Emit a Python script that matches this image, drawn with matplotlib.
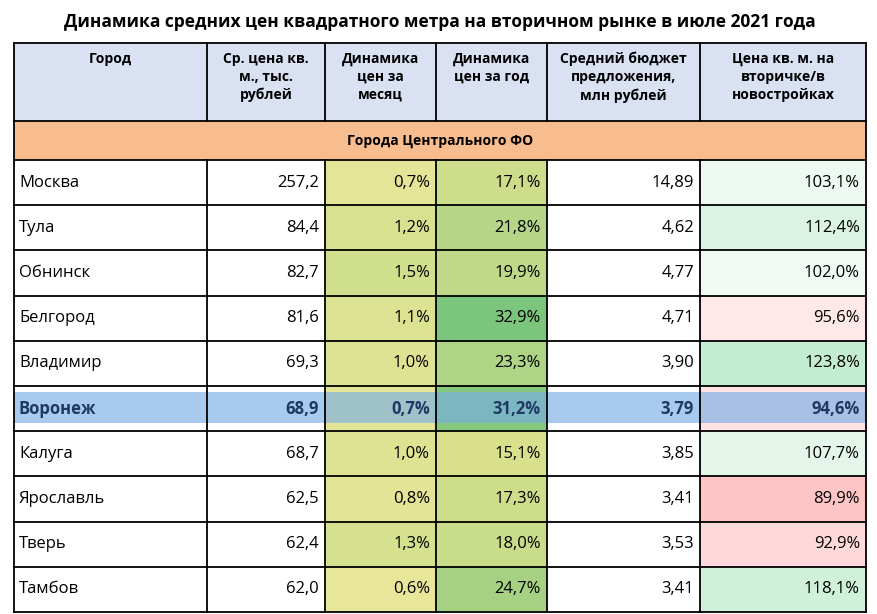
import matplotlib
matplotlib.use("Agg")
import matplotlib.pyplot as plt
from matplotlib.patches import Rectangle
import numpy as np

title = "Динамика средних цен квадратного метра на вторичном рынке в июле 2021 года"
headers = ["Город", "Ср. цена кв.\nм., тыс.\nрублей", "Динамика\nцен за\nмесяц",
           "Динамика\nцен за год", "Средний бюджет\nпредложения,\nмлн рублей",
           "Цена кв. м. на\nвторичке/в\nновостройках"]
group = "Города Центрального ФО"
cities = ["Москва", "Тула", "Обнинск", "Белгород", "Владимир", "Воронеж",
          "Калуга", "Ярославль", "Тверь", "Тамбов"]
price = [257.2, 84.4, 82.7, 81.6, 69.3, 68.9, 68.7, 62.5, 62.4, 62.0]
month = [0.7, 1.2, 1.5, 1.1, 1.0, 0.7, 1.0, 0.8, 1.3, 0.6]
year = [17.1, 21.8, 19.9, 32.9, 23.3, 31.2, 15.1, 17.3, 18.0, 24.7]
budget = [14.89, 4.62, 4.77, 4.71, 3.90, 3.79, 3.85, 3.41, 3.53, 3.41]
ratio = [103.1, 112.4, 102.0, 95.6, 123.8, 94.6, 107.7, 89.9, 92.9, 118.1]
highlight = "Воронеж"

def fmt(v, d):
    return f"{v:.{d}f}".replace(".", ",")

def lerp(c1, c2, t):
    c1 = np.array(matplotlib.colors.to_rgb(c1)); c2 = np.array(matplotlib.colors.to_rgb(c2))
    t = min(max(t, 0), 1)
    return tuple(c1 + (c2 - c1) * t)

def col_month(v):
    return lerp("#e8e698", "#d0df8b", (v - min(month)) / (max(month) - min(month)))
def col_year(v):
    return lerp("#d8e08c", "#7cc57c", (v - min(year)) / (max(year) - min(year)))
def col_ratio(v):
    if v >= 100:
        return lerp("#f4fbf6", "#c4ecd0", (v - 100) / (max(ratio) - 100))
    return lerp("#fff4f4", "#ffc5c5", ((100 - v) / (100 - min(ratio))) ** 1.6)

fig = plt.figure(figsize=(8.78, 6.14), dpi=100)
ax = fig.add_axes([0, 0, 1, 1])
ax.set_xlim(0, 878); ax.set_ylim(614, 0); ax.axis("off")
FONT = "Open Sans"

xs = [14, 207, 325, 436, 547, 700, 866]
yh0, yh1, yg1 = 43, 121, 160
rh = 45.2

ax.text(440, 22, title, ha="center", va="center", fontsize=12.5, fontweight="bold", family=FONT)
ax.add_patch(Rectangle((xs[0], yh0), xs[-1] - xs[0], yh1 - yh0, fc="#d9e1f2", ec="none"))
for i, h in enumerate(headers):
    ax.text((xs[i] + xs[i + 1]) / 2, yh0 + 9, h, ha="center", va="top", fontsize=10,
            fontweight="bold", family=FONT, linespacing=1.35)
ax.add_patch(Rectangle((xs[0], yh1), xs[-1] - xs[0], yg1 - yh1, fc="#f8bd8f", ec="none"))
ax.text((xs[0] + xs[-1]) / 2, (yh1 + yg1) / 2, group, ha="center", va="center",
        fontsize=10, fontweight="bold", family=FONT)

for r, c in enumerate(cities):
    y0 = yg1 + r * rh
    cy = y0 + rh / 2
    cols = [None, None, col_month(month[r]), col_year(year[r]), None, col_ratio(ratio[r])]
    texts = [c, fmt(price[r], 1), fmt(month[r], 1) + "%", fmt(year[r], 1) + "%",
             fmt(budget[r], 2), fmt(ratio[r], 1) + "%"]
    for i in range(6):
        if cols[i] is not None:
            ax.add_patch(Rectangle((xs[i], y0), xs[i + 1] - xs[i], rh, fc=cols[i], ec="none"))
    hl = c == highlight
    if hl:
        ax.add_patch(Rectangle((xs[0], y0 + 6), xs[-1] - xs[0], rh - 14, fc="#78aee6",
                               ec="none", alpha=0.65, zorder=2))
    color = "#1f3864" if hl else "black"
    weight = "bold" if hl else "normal"
    for i, t in enumerate(texts):
        if i == 0:
            ax.text(xs[0] + 5, cy, t, ha="left", va="center", fontsize=12, family=FONT,
                    color=color, fontweight=weight, zorder=3)
        else:
            ax.text(xs[i + 1] - 6, cy, t, ha="right", va="center", fontsize=12, family=FONT,
                    color=color, fontweight=weight, zorder=3)

ybot = yg1 + len(cities) * rh
lw = 1.3
for x in xs:
    if x in (xs[0], xs[-1]):
        ax.plot([x, x], [yh0, ybot], color="black", lw=lw, zorder=4)
    else:
        ax.plot([x, x], [yh0, yh1], color="black", lw=lw, zorder=4)
        ax.plot([x, x], [yg1, ybot], color="black", lw=lw, zorder=4)
for y in [yh0, yh1, yg1] + [yg1 + r * rh for r in range(1, len(cities) + 1)]:
    ax.plot([xs[0], xs[-1]], [y, y], color="black", lw=lw, zorder=4)

fig.savefig("out.png", dpi=100)
